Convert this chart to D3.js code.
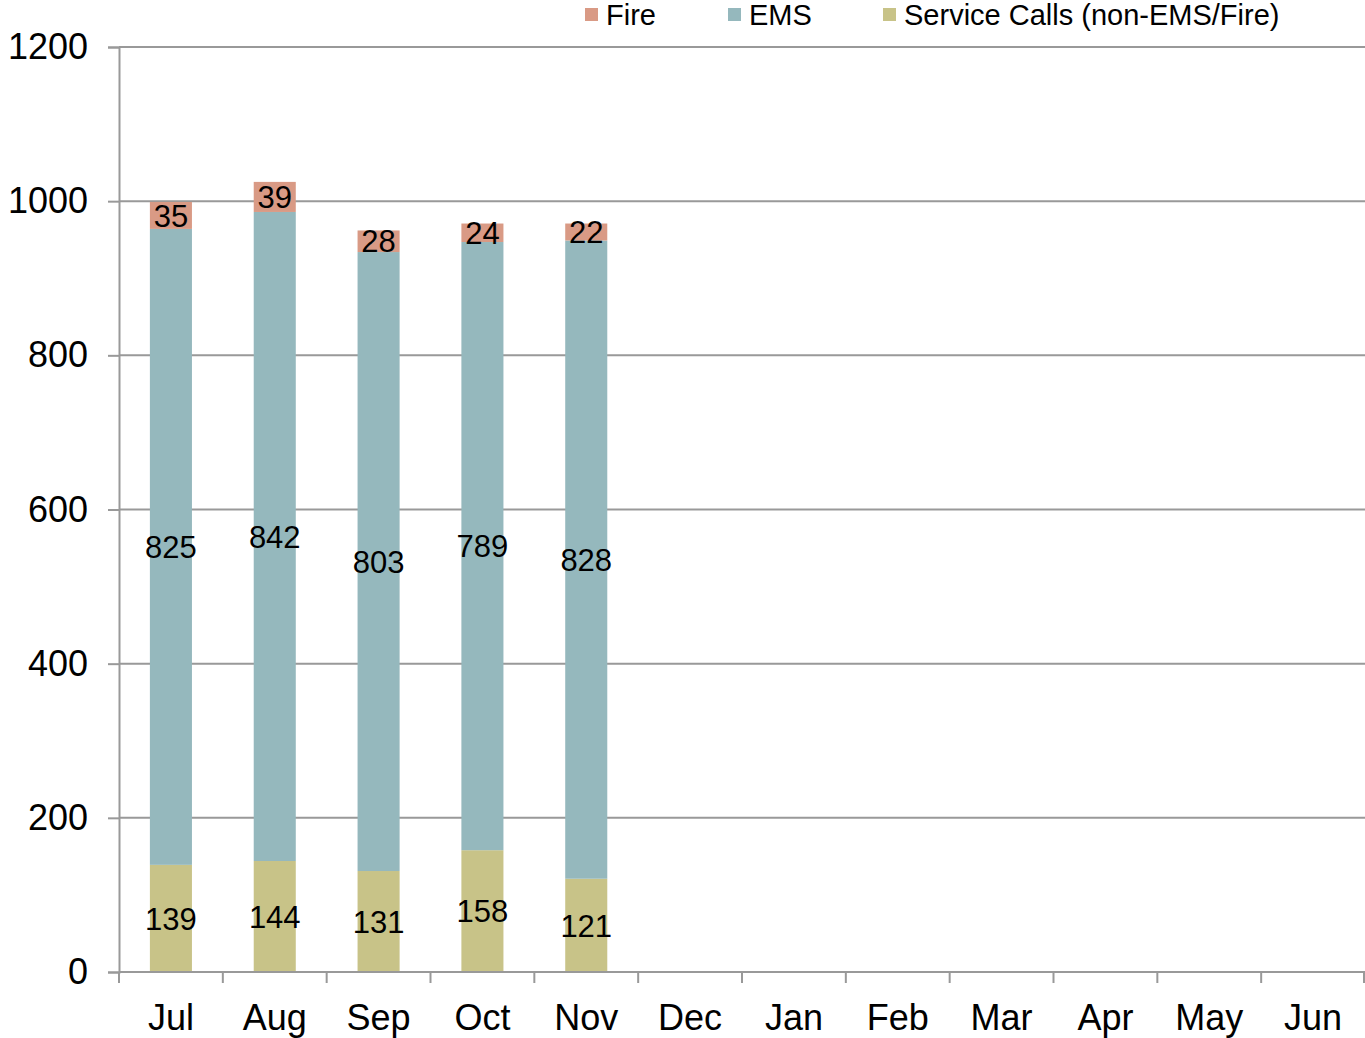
<!DOCTYPE html>
<html>
<head>
<meta charset="utf-8">
<script src="https://cdn.jsdelivr.net/npm/d3@7"></script>
<style>
  body { margin: 0; background: #fff; }
  svg { display: block; font-family: "Liberation Sans", Arial, sans-serif; }
</style>
</head>
<body>
<div id="chart"></div>
<script>
const months = ['Jul', 'Aug', 'Sep', 'Oct', 'Nov', 'Dec', 'Jan', 'Feb', 'Mar', 'Apr', 'May', 'Jun']
const service = [139, 144, 131, 158, 121]
const ems = [825, 842, 803, 789, 828]
const fire = [35, 39, 28, 24, 22]
const yTicks = [0, 200, 400, 600, 800, 1000, 1200]

const seriesNames = ['Fire', 'EMS', 'Service Calls (non-EMS/Fire)']
const colors = { service: '#c8c388', ems: '#95b8bd', fire: '#d99a85' }

const W = 1365, H = 1038
const plotLeft = 119, plotRight = 1365, plotTop = 47, plotBottom = 972

const svg = d3.select('#chart').append('svg').attr('width', W).attr('height', H)

const x = d3.scaleBand().domain(months).range([plotLeft, plotRight]).padding(0)
const y = d3.scaleLinear().domain([0, 1200]).range([plotBottom, plotTop])

// gridlines
svg.append('g')
  .selectAll('line')
  .data(yTicks.filter(d => d > 0))
  .enter().append('line')
  .attr('x1', plotLeft).attr('x2', plotRight)
  .attr('y1', d => y(d)).attr('y2', d => y(d))
  .attr('stroke', '#999').attr('stroke-width', 2)

// stacked data
const rows = service.map((s, i) => ({ month: months[i], service: s, ems: ems[i], fire: fire[i] }))
const stack = d3.stack().keys(['service', 'ems', 'fire'])(rows)

const barW = x.bandwidth() * 0.405
stack.forEach(layer => {
  const g = svg.append('g')
  g.selectAll('rect')
    .data(layer)
    .enter().append('rect')
    .attr('x', d => x(d.data.month) + (x.bandwidth() - barW) / 2)
    .attr('width', barW)
    .attr('y', d => y(d[1]))
    .attr('height', d => y(d[0]) - y(d[1]))
    .attr('fill', colors[layer.key])
  g.selectAll('text')
    .data(layer)
    .enter().append('text')
    .attr('x', d => x(d.data.month) + x.bandwidth() / 2)
    .attr('y', d => y((d[0] + d[1]) / 2))
    .attr('dy', '0.36em')
    .attr('text-anchor', 'middle')
    .attr('font-size', 31)
    .attr('fill', '#000')
    .text(d => d.data[layer.key])
})

// y axis
const yAxis = svg.append('g').attr('transform', `translate(${plotLeft},0)`)
  .call(d3.axisLeft(y).tickValues(yTicks).tickFormat(d3.format('d')).tickSize(11).tickPadding(20))
yAxis.select('.domain').attr('stroke', '#999').attr('stroke-width', 2)
yAxis.selectAll('.tick line').attr('stroke', '#999').attr('stroke-width', 2)
yAxis.selectAll('.tick text').attr('font-size', 36).attr('fill', '#000')
  .attr('font-family', '"Liberation Sans", Arial, sans-serif')

// x axis
svg.append('line')
  .attr('x1', plotLeft).attr('x2', plotRight).attr('y1', plotBottom).attr('y2', plotBottom)
  .attr('stroke', '#999').attr('stroke-width', 2)
const bounds = months.map(m => x(m)).concat([plotRight - 1])
svg.append('g').selectAll('line')
  .data(bounds)
  .enter().append('line')
  .attr('x1', d => d).attr('x2', d => d)
  .attr('y1', plotBottom).attr('y2', plotBottom + 11)
  .attr('stroke', '#999').attr('stroke-width', 2)
svg.append('g').selectAll('text')
  .data(months)
  .enter().append('text')
  .attr('x', d => x(d) + x.bandwidth() / 2)
  .attr('y', 1030)
  .attr('text-anchor', 'middle')
  .attr('font-size', 36)
  .text(d => d)

// legend
const legendItems = [
  { name: seriesNames[0], color: colors.fire, x: 585 },
  { name: seriesNames[1], color: colors.ems, x: 728 },
  { name: seriesNames[2], color: colors.service, x: 883 }
]
const lg = svg.append('g')
legendItems.forEach(it => {
  lg.append('rect').attr('x', it.x).attr('y', 8).attr('width', 13).attr('height', 13).attr('fill', it.color)
  lg.append('text').attr('x', it.x + 21).attr('y', 25).attr('font-size', 29).text(it.name)
})
</script>
</body>
</html>
